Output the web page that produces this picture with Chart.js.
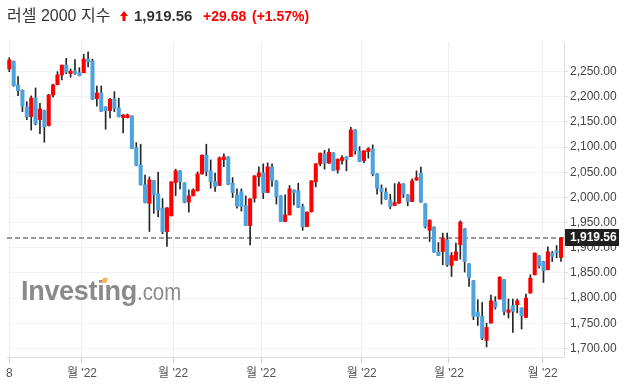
<!DOCTYPE html>
<html>
<head>
<meta charset="utf-8">
<script src="https://cdn.jsdelivr.net/npm/chart.js@4.4.0/dist/chart.umd.min.js"></script>
<style>
body { margin: 0; background: #fff; width: 626px; height: 390px; overflow: hidden; position: relative;
       font-family: 'Liberation Sans', Arial, 'Noto Sans CJK KR', sans-serif; }
#chart { position: absolute; left: 0; top: 0; }
.hd { position: absolute; top: 6px; line-height: 20px; white-space: nowrap; }
.ttl { left: 7px; font-size: 16px; color: #333; }
.arr { position: absolute; left: 120px; top: 11px; }
.px { left: 134px; font-size: 15px; font-weight: bold; color: #333; }
.chg { font-size: 14px; font-weight: bold; color: #f00; }
.wm { position: absolute; left: 21px; top: 278px; line-height: 27px; white-space: nowrap; color: #8a8a8a; pointer-events: none; }
.wm b { font-size: 27px; letter-spacing: -0.3px; }
.wm span { display: inline-block; font-size: 24px; transform: scaleX(0.85); transform-origin: left; }
.dot { position: absolute; left: 102px; top: 278px; width: 5px; height: 5px; background: #f7b557; transform: skewX(-18deg); }
</style>
</head>
<body>
<canvas id="chart" width="626" height="390"></canvas>
<div class="hd ttl">러셀 2000 지수</div>
<svg class="arr" width="8" height="10" viewBox="0 0 8 10"><polygon points="4,0 8,5 5.5,5 5.5,10 2.5,10 2.5,5 0,5" fill="#f00"/></svg>
<div class="hd px">1,919.56</div>
<div class="hd chg" style="left:203px">+29.68</div>
<div class="hd chg" style="left:252px">(+1.57%)</div>
<div class="wm"><b>Investing</b><span>.com</span></div>
<div class="dot"></div>
<script>
// daily candles, oldest first
const opens = [
    2255.4, 2270.5, 2223.6, 2213.1, 2179.9, 2160.7, 2197.8, 2154.7, 2172.6, 2142.8,
    2203.8, 2224.2, 2243.5, 2263.3, 2246.0, 2251.4, 2248.0, 2248.0, 2275.2, 2271.3,
    2196.4, 2207.7, 2179.9, 2172.6, 2195.8, 2178.0, 2158.7, 2158.7, 2162.1, 2099.1,
    2064.8, 2025.1, 1988.3, 2033.6, 2007.2, 1978.8, 1932.3, 1963.5, 2029.6, 2052.9,
    2029.0, 1990.7, 2003.2, 2013.1, 2046.9, 2084.0, 2052.9, 2031.6, 2024.1, 2075.3,
    2080.7, 2028.4, 2005.2, 2011.2, 1983.9, 1944.2, 1998.3, 2041.5, 2048.9, 2009.8,
    2060.8, 2033.0, 2003.2, 1952.2, 1965.5, 2014.5, 2013.1, 1982.0, 1942.2, 1971.4,
    2031.0, 2066.8, 2086.2, 2068.2, 2088.6, 2054.8, 2073.3, 2080.7, 2081.3, 2134.3,
    2092.6, 2073.3, 2091.2, 2096.5, 2046.9, 2018.5, 2010.6, 1995.3, 1983.9, 1988.7,
    2027.0, 2005.2, 1991.9, 2034.4, 2048.3, 1987.3, 1934.7, 1941.1, 1891.4, 1892.6,
    1915.8, 1864.8, 1875.1, 1905.9, 1937.7, 1868.2, 1834.4, 1772.3, 1763.5, 1715.9,
    1750.4, 1792.7, 1798.1, 1836.4, 1771.5, 1784.8, 1786.8, 1780.2, 1761.6, 1810.0,
    1846.3, 1884.1, 1872.7, 1856.3, 1889.4, 1894.0, 1880.7
];
const highs = [
    2277.8, 2271.3, 2240.1, 2214.0, 2190.5, 2201.8, 2217.7, 2187.3, 2173.5, 2205.2,
    2225.6, 2250.0, 2263.3, 2276.6, 2255.4, 2273.9, 2258.0, 2284.6, 2289.7, 2275.0,
    2221.6, 2221.6, 2180.5, 2197.2, 2210.3, 2197.2, 2164.5, 2166.0, 2162.5, 2109.0,
    2105.9, 2044.3, 2040.9, 2034.0, 2050.3, 1997.8, 1980.0, 2031.5, 2056.2, 2053.5,
    2029.5, 2015.1, 2017.1, 2050.9, 2084.5, 2105.9, 2074.7, 2048.3, 2080.7, 2086.6,
    2081.0, 2039.5, 2017.1, 2017.1, 2003.2, 1998.0, 2043.5, 2060.8, 2066.8, 2068.8,
    2066.8, 2033.5, 2003.5, 2005.2, 2023.7, 2015.0, 2028.4, 1986.7, 1971.3, 2033.5,
    2067.3, 2088.5, 2093.6, 2096.9, 2089.0, 2076.6, 2083.2, 2081.2, 2139.6, 2134.8,
    2101.1, 2093.0, 2099.1, 2104.5, 2047.3, 2025.1, 2018.5, 2006.6, 2027.6, 2030.4,
    2027.5, 2005.7, 2037.0, 2052.9, 2060.2, 1987.8, 1955.5, 1941.6, 1910.5, 1929.1,
    1929.1, 1890.6, 1909.3, 1953.6, 1938.2, 1868.6, 1834.9, 1796.7, 1791.3, 1750.4,
    1806.0, 1802.8, 1842.3, 1836.9, 1798.1, 1798.1, 1798.1, 1780.7, 1808.0, 1846.3,
    1889.9, 1884.6, 1873.2, 1901.9, 1892.6, 1904.5, 1920.5
];
const lows = [
    2250.0, 2221.0, 2202.4, 2170.6, 2154.7, 2133.7, 2144.2, 2126.9, 2109.8, 2142.0,
    2199.2, 2223.6, 2233.5, 2246.0, 2238.9, 2244.8, 2241.5, 2247.5, 2259.4, 2194.5,
    2181.3, 2171.0, 2135.6, 2158.1, 2170.6, 2160.0, 2128.3, 2158.0, 2097.0, 2063.0,
    2024.5, 1989.0, 1932.3, 1968.5, 1961.5, 1927.8, 1902.5, 1963.0, 2003.8, 2017.1,
    1989.3, 1970.8, 2003.0, 2013.0, 2046.5, 2042.9, 2018.5, 2011.8, 2023.5, 2061.4,
    2025.1, 1999.9, 1978.8, 1972.8, 1944.0, 1905.9, 1990.7, 2022.5, 1997.7, 2009.5,
    2021.7, 1986.7, 1952.0, 1952.0, 1965.0, 1985.3, 1980.0, 1934.7, 1941.7, 1971.0,
    2021.1, 2062.8, 2056.2, 2067.7, 2053.0, 2048.3, 2066.2, 2052.9, 2081.0, 2086.0,
    2071.0, 2069.3, 2078.1, 2042.9, 2006.6, 1986.7, 1996.0, 1977.4, 1983.5, 1988.3,
    1999.9, 1983.4, 1991.5, 2034.0, 1990.3, 1939.1, 1912.5, 1891.0, 1884.3, 1866.2,
    1862.8, 1843.0, 1874.7, 1877.5, 1851.7, 1823.1, 1757.0, 1745.7, 1717.3, 1702.8,
    1750.0, 1778.2, 1797.7, 1766.3, 1760.3, 1731.8, 1770.7, 1738.5, 1761.2, 1809.6,
    1845.8, 1859.7, 1831.0, 1855.9, 1872.7, 1879.9, 1872.7
];
const closes = [
    2273.3, 2222.2, 2212.3, 2181.9, 2160.1, 2197.8, 2146.2, 2176.0, 2140.8, 2203.8,
    2223.6, 2243.5, 2263.0, 2248.8, 2251.4, 2246.8, 2242.1, 2275.2, 2269.9, 2195.2,
    2207.7, 2171.4, 2172.6, 2195.2, 2176.9, 2160.7, 2164.0, 2164.0, 2097.5, 2063.8,
    2025.1, 1989.9, 2035.0, 2005.2, 1975.4, 1931.7, 1979.4, 2031.0, 2052.9, 2031.6,
    1990.7, 2003.2, 2015.1, 2046.9, 2084.0, 2051.5, 2031.6, 2021.7, 2078.7, 2080.7,
    2026.1, 2009.8, 1982.8, 1982.0, 1944.2, 1997.3, 2042.9, 2048.9, 2009.6, 2060.8,
    2033.6, 2001.8, 1952.2, 1965.5, 2017.1, 2009.8, 1980.4, 1942.2, 1970.8, 2033.0,
    2066.8, 2088.0, 2068.2, 2090.0, 2053.5, 2076.1, 2079.3, 2075.3, 2134.3, 2093.2,
    2071.3, 2092.6, 2097.1, 2046.3, 2018.5, 2011.8, 1996.7, 1982.0, 1989.9, 2027.0,
    2006.6, 1991.9, 2033.0, 2039.5, 1990.7, 1942.2, 1955.0, 1891.4, 1884.7, 1919.2,
    1866.2, 1884.7, 1891.9, 1951.1, 1872.7, 1841.0, 1763.5, 1763.5, 1720.6, 1741.7,
    1794.7, 1782.2, 1841.8, 1773.5, 1776.8, 1773.5, 1794.7, 1764.9, 1800.1, 1839.8,
    1889.4, 1864.2, 1854.3, 1891.9, 1882.7, 1889.9, 1919.56
];

// x axis labels and the candle index they sit at
const xTickPos = [0, 16.6, 37.4, 57.5, 80.5, 100.4, 121.8];
const xTickLabels = ["8", "월 '22", "월 '22", "월 '22", "월 '22", "월 '22", "월 '22"];
const yTicks = [1700, 1750, 1800, 1850, 1900, 1950, 2000, 2050, 2100, 2150, 2200, 2250];
const lastPrice = 1919.56;

const UP = "#ff0000";
const DOWN = "#4da3dd";
const FONT = "'Liberation Sans', Arial, 'Noto Sans CJK KR', sans-serif";

const bodies = opens.map((o, i) => ({ x: i, y: [Math.min(o, closes[i]), Math.max(o, closes[i])] }));
const wicks = highs.map((h, i) => ({ x: i, y: [lows[i], h] }));
const colors = opens.map((o, i) => closes[i] >= o ? UP : DOWN);

const fmt = v => v.toLocaleString("en-US", { minimumFractionDigits: 2, maximumFractionDigits: 2 });

// dashed last price line + the dark price box on the axis
const lastLine = {
    id: "lastLine",
    beforeDatasetsDraw(chart) {
        const { ctx, chartArea, scales } = chart;
        const y = Math.round(scales.y.getPixelForValue(lastPrice));
        ctx.save();
        ctx.strokeStyle = "#9a9a9a";
        ctx.lineWidth = 2;
        ctx.setLineDash([5, 3]);
        ctx.beginPath();
        ctx.moveTo(chartArea.left, y);
        ctx.lineTo(chartArea.right, y);
        ctx.stroke();
        ctx.restore();
    },
    afterDraw(chart) {
        const { ctx, chartArea, scales } = chart;
        const y = Math.round(scales.y.getPixelForValue(lastPrice));
        ctx.save();
        ctx.fillStyle = "#1f1f1f";
        ctx.fillRect(chartArea.right + 1, y - 9, 54, 17);
        ctx.fillStyle = "#fff";
        ctx.font = "bold 12px " + FONT;
        ctx.textBaseline = "middle";
        ctx.fillText(fmt(lastPrice), chartArea.right + 6, y);
        ctx.restore();
    }
};

new Chart(document.getElementById("chart"), {
    type: "bar",
    data: {
        datasets: [
            {
                data: bodies,
                backgroundColor: colors,
                barThickness: 3.4,
                minBarLength: 1,
                grouped: false
            },
            {
                data: wicks,
                backgroundColor: "#262626",
                barThickness: 1,
                grouped: false
            }
        ]
    },
    options: {
        responsive: false,
        animation: false,
        devicePixelRatio: 1,
        layout: { padding: { left: 7, top: 42, right: 0, bottom: 0 } },
        plugins: { legend: { display: false }, tooltip: { enabled: false } },
        scales: {
            x: {
                type: "linear",
                min: -0.525,
                max: 126.685,
                offset: false,
                afterBuildTicks: s => { s.ticks = xTickPos.map(v => ({ value: v })); },
                afterFit: s => { s.height = 33; },
                ticks: {
                    autoSkip: false,
                    maxRotation: 0,
                    padding: 3,
                    color: "#555",
                    font: { family: FONT, size: 12 },
                    callback: (v, i) => xTickLabels[i]
                },
                grid: { offset: false, color: "#eeeeee", tickColor: "#cccccc", tickLength: 6 },
                border: { color: "#dddddd" }
            },
            y: {
                position: "right",
                min: 1682.9,
                max: 2309.0,
                afterBuildTicks: s => { s.ticks = yTicks.map(v => ({ value: v })); },
                afterFit: s => { s.width = 62; },
                ticks: {
                    padding: 2,
                    color: "#444",
                    font: { family: FONT, size: 12 },
                    callback: v => fmt(v)
                },
                grid: { color: "#f2f2f2", tickColor: "#dddddd", tickLength: 4 },
                border: { color: "#dddddd" }
            }
        }
    },
    plugins: [lastLine]
});
</script>
</body>
</html>
